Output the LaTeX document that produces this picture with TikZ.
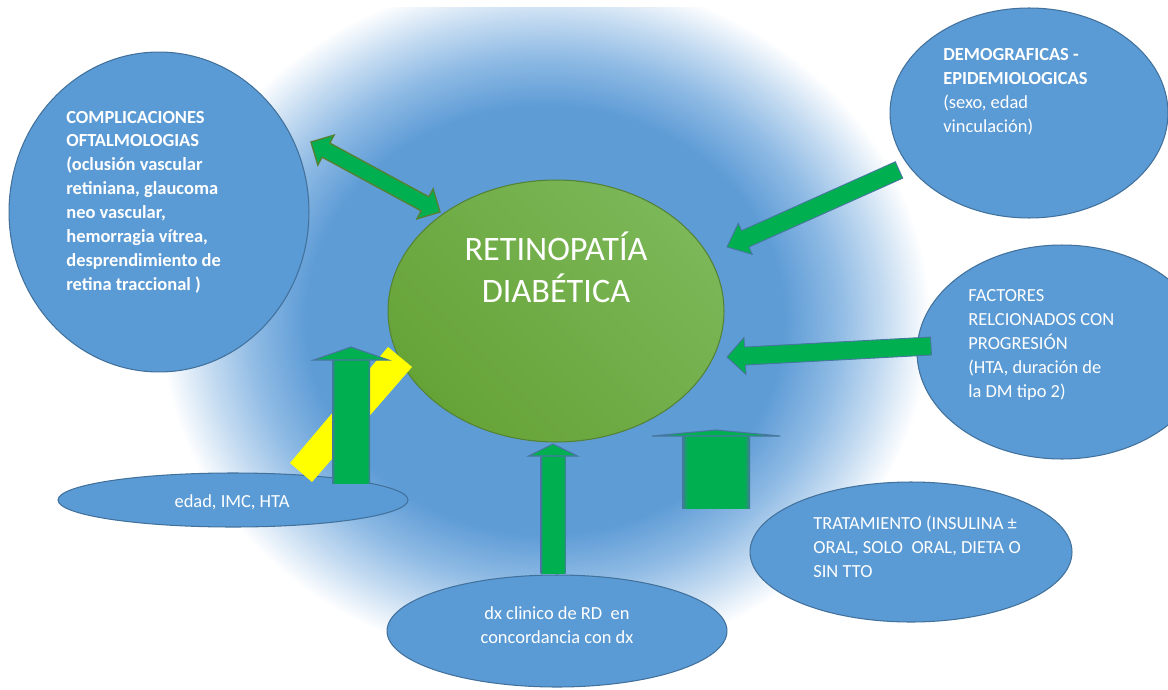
\documentclass[tikz,border=0pt]{standalone}
\usepackage{fontspec}
\setmainfont{Carlito}
\usetikzlibrary{calc,shapes.geometric,positioning}

\definecolor{bubblefill}{RGB}{91,155,213}
\definecolor{bubbleline}{RGB}{65,113,156}
\definecolor{retlow}{RGB}{102,163,55}
\definecolor{rethigh}{RGB}{124,183,88}
\definecolor{retline}{RGB}{84,130,53}
\definecolor{arrowgreen}{RGB}{0,176,80}
\definecolor{edgeblue}{RGB}{72,118,160}
\definecolor{glowblue}{RGB}{94,156,214}
\definecolor{glowmidA}{RGB}{142,186,228}
\definecolor{glowmidB}{RGB}{196,219,241}
\definecolor{baryellow}{RGB}{255,255,0}

\pgfdeclareradialshading{glow}{\pgfpoint{0bp}{0bp}}{color(0bp)=(glowblue); color(15.5bp)=(glowblue); color(19bp)=(glowmidA); color(22bp)=(glowmidB); color(25bp)=(white); color(50bp)=(white)}
\pgfdeclarehorizontalshading{shaftshade}{100bp}{color(0bp)=(edgeblue); color(25bp)=(edgeblue); color(29bp)=(arrowgreen); color(71bp)=(arrowgreen); color(75bp)=(edgeblue); color(100bp)=(edgeblue)}

% block arrow: [style]{tail}{tip}{half shaft}{half head}{head length}, sizes in px
\newcommand{\blockarrow}[6][]{%
  \coordinate (ba-h) at ($(#3)!#6*0.02cm!(#2)$);
  \filldraw[#1] ($(#2)!#4*0.02cm!90:(#3)$) -- ($(ba-h)!#4*0.02cm!90:(#3)$) -- ($(ba-h)!#5*0.02cm!90:(#3)$) -- (#3)
    -- ($(ba-h)!#5*0.02cm!-90:(#3)$) -- ($(ba-h)!#4*0.02cm!-90:(#3)$) -- ($(#2)!#4*0.02cm!-90:(#3)$) -- cycle;
}
% two headed block arrow: [style]{tip a}{tip b}{half shaft}{half head}{head length}
\newcommand{\dblockarrow}[6][]{%
  \coordinate (da-a) at ($(#2)!#6*0.02cm!(#3)$);
  \coordinate (da-b) at ($(#3)!#6*0.02cm!(#2)$);
  \filldraw[#1] (#2) -- ($(da-a)!#5*0.02cm!90:(#3)$) -- ($(da-a)!#4*0.02cm!90:(#3)$) -- ($(da-b)!#4*0.02cm!90:(#3)$)
    -- ($(da-b)!#5*0.02cm!90:(#3)$) -- (#3) -- ($(da-b)!#5*0.02cm!-90:(#3)$) -- ($(da-b)!#4*0.02cm!-90:(#3)$)
    -- ($(da-a)!#4*0.02cm!-90:(#3)$) -- ($(da-a)!#5*0.02cm!-90:(#3)$) -- cycle;
}
% upward arrow with shaded shaft: {tail}{tip}{half shaft}{half head}{head length}
\newcommand{\vblockarrow}[5]{%
  \shade[shading=shaftshade] ($(#1)+(-#3,0)$) rectangle ($(#2)+(#3,#5)$);
  \filldraw[vhead] ($(#2)+(-#4,#5)$) -- (#2) -- ($(#2)+(#4,#5)$) -- cycle;
}

\begin{document}
\begin{tikzpicture}[
  x=0.02cm, y=-0.02cm,
  bubble/.style={ellipse, draw=bubbleline, fill=bubblefill, line width=0.6pt, inner sep=0pt},
  retina/.style={ellipse, draw=retline, line width=0.6pt, inner sep=0pt, shading=axis, bottom color=retlow, top color=rethigh, shading angle=-45},
  btext/.style={text=white, inner sep=0pt, align=left, font=\fontsize{10.5}{13.6}\selectfont},
  title/.style={text=white, inner sep=0pt, align=center, font=\fontsize{19.5}{23.9}\selectfont},
  twoway/.style={fill=arrowgreen, draw=retline, line width=0.8pt},
  oneway/.style={fill=arrowgreen, draw=edgeblue, line width=0.5pt},
  vhead/.style={fill=arrowgreen, draw=edgeblue, line width=0.6pt}
]
\useasboundingbox (0,0) rectangle (1168,689);
\fill[white] (0,0) rectangle (1168,689);

% glow behind the centre
\begin{scope}
  \clip (0,8) rectangle (1168,689);
  \shade[shading=glow] (545,320) ellipse [x radius=385, y radius=345];
\end{scope}

% bubbles
\node[bubble, minimum width=6cm, minimum height=6.4cm] (comp) at (159,212) {};
\node[bubble, minimum width=5.56cm, minimum height=4.2cm] (demo) at (1029,113) {};
\node[bubble, minimum width=5.8cm, minimum height=4.28cm] (fact) at (1062,352) {};
\node[bubble, minimum width=6.44cm, minimum height=2.8cm] (trat) at (911,552) {};
\node[bubble, minimum width=6.8cm, minimum height=2.24cm] (dx) at (557,631) {};
\node[bubble, minimum width=7cm, minimum height=1.08cm] (edad) at (233,500) {};
\node[retina, minimum width=6.72cm, minimum height=5.24cm] (ret) at (556,311) {};

% yellow bar
\fill[baryellow] (388,347) -- (412,367) -- (312,482) -- (290,463) -- cycle;

% arrows
\coordinate (compend) at (311,142);
\coordinate (retend) at (440,212);
\dblockarrow[twoway]{compend}{retend}{8}{17}{17}

\coordinate (demoend) at (899,170);
\coordinate (demotip) at (727,247);
\blockarrow[oneway]{demoend}{demotip}{9}{17}{20}

\coordinate (factend) at (931,346);
\coordinate (facttip) at (727,357);
\blockarrow[oneway]{factend}{facttip}{9}{18.5}{18}

\coordinate (edadend) at (351,483);
\coordinate (edadtip) at (351,347);
\vblockarrow{edadend}{edadtip}{19}{37.5}{13}

\coordinate (dxend) at (553,573);
\coordinate (dxtip) at (553,444);
\vblockarrow{dxend}{dxtip}{12.5}{24.5}{12}

\coordinate (tratend) at (716,508);
\coordinate (trattip) at (716,430);
\vblockarrow{tratend}{trattip}{34}{64}{6}

% texts
\node[title] (rettxt) at (556,267) {RETINOPATÍA\\DIABÉTICA};
\node[btext, anchor=west] (comptxt) at (66,202) {\textbf{COMPLICACIONES}\\\textbf{OFTALMOLOGIAS}\\\textbf{(oclusión vascular}\\\textbf{retiniana, glaucoma}\\\textbf{neo vascular,}\\\textbf{hemorragia vítrea,}\\\textbf{desprendimiento de}\\\textbf{retina traccional )}};
\node[btext, anchor=west] (demotxt) at (943,92) {\textbf{DEMOGRAFICAS -}\\\textbf{EPIDEMIOLOGICAS}\\(sexo, edad\\vinculación)};
\node[btext, anchor=west] (facttxt) at (968,345) {FACTORES\\RELCIONADOS CON\\PROGRESIÓN\\(HTA, duración de\\la DM tipo 2)};
\node[btext, anchor=west] (trattxt) at (813,547) {TRATAMIENTO (INSULINA ±\\ORAL, SOLO\ \ ORAL, DIETA O\\SIN TTO};
\node[btext, align=center] (dxtxt) at (557,625) {dx clinico de RD\ \ en\\concordancia con dx};
\node[btext] (edadtxt) at (232,502) {edad, IMC, HTA};
\end{tikzpicture}
\end{document}
